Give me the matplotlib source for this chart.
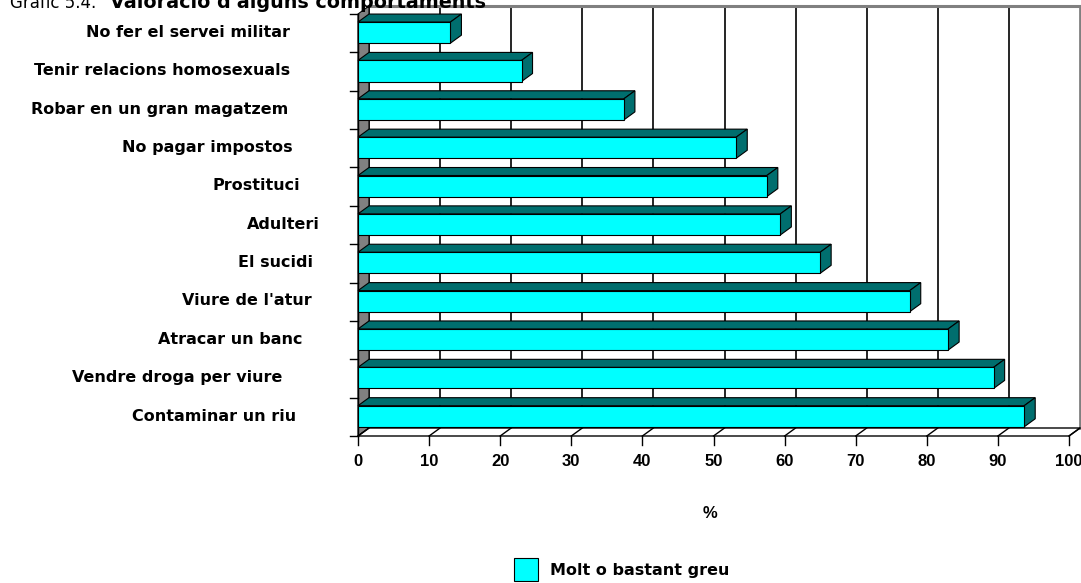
import matplotlib
matplotlib.use('Agg')
import matplotlib.pyplot as plt
from matplotlib.patches import Polygon, Rectangle

plt.rcParams['font.family'] = ['DejaVu Sans']

# categories top to bottom, as in the chart
categories = ['No fer el servei militar', 'Tenir relacions homosexuals',
              'Robar en un gran magatzem', 'No pagar impostos', 'Prostituci',
              'Adulteri', 'El sucidi', "Viure de l'atur", 'Atracar un banc',
              'Vendre droga per viure', 'Contaminar un riu']
values = [13, 23, 37.4, 53.2, 57.5, 59.4, 65, 77.6, 83, 89.4, 93.7]
xticks = [0, 10, 20, 30, 40, 50, 60, 70, 80, 90, 100]
series_name = 'Molt o bastant greu'
title_a = 'Gràfic 5.4.'
title_b = "Valoració d'alguns comportaments"

# right edge (px) of each category label, the source chart staggers them
label_right_px = [290, 290, 288, 293, 300, 320, 313, 312, 303, 282, 296]

W, H = 1081, 583
fig = plt.figure(figsize=(W / 100, H / 100), dpi=100)
x0, x1, ytop, ybot = 358, 1069, 14, 436
ax = fig.add_axes([x0 / W, 1 - ybot / H, (x1 - x0) / W, (ybot - ytop) / H])
n = len(categories)
ax.set_xlim(0, 100)
ax.set_ylim(0, n)
ax.axis('off')

pxu = (x1 - x0) / 100.0          # px per value unit
pyu = (ybot - ytop) / float(n)   # px per category
dx = 11 / pxu
dy = 8 / pyu

front = '#00FFFF'
dark = '#006E6E'
grey = '#808080'
lab_font = dict(family='DejaVu Sans', fontweight='bold', fontsize=11.5)
num_font = dict(family='Liberation Sans', fontweight='bold', fontsize=12)

# back wall
ax.add_patch(Rectangle((dx, dy), 100, n, facecolor='white', edgecolor='none',
                       clip_on=False, zorder=0))
for v in xticks:
    ax.plot([v + dx, v + dx], [dy, n + dy], color='black' if v < 100 else grey,
            lw=1.2 if v < 100 else 2, clip_on=False, zorder=1)
ax.plot([dx, 100 + dx], [n + dy, n + dy], color=grey, lw=2.2, clip_on=False, zorder=1)

# side wall
ax.add_patch(Polygon([(0, 0), (dx, dy), (dx, n + dy), (0, n)], closed=True,
                     facecolor=grey, edgecolor='black', lw=0.8, clip_on=False, zorder=1))

# floor
ax.add_patch(Polygon([(0, 0), (100, 0), (100 + dx, dy), (dx, dy)], closed=True,
                     facecolor='white', edgecolor='black', lw=1, clip_on=False, zorder=2))
for v in xticks:
    ax.plot([v, v + dx], [0, dy], color='black', lw=1, clip_on=False, zorder=2)
    ax.plot([v, v], [0, -9 / pyu], color='black', lw=1, clip_on=False, zorder=2)
    ax.text(v, -26 / pyu, str(v), ha='center', va='center', clip_on=False, **num_font)

# front left axis and category ticks
ax.plot([0, 0], [0, n], color='black', lw=1, clip_on=False, zorder=3)
for k in range(n + 1):
    ax.plot([-8 / pxu, 0], [k, k], color='black', lw=1, clip_on=False, zorder=3)

# bars
bh = 0.55
b0 = 0.24
for i, (cat, val) in enumerate(zip(categories, values)):
    k = n - 1 - i
    yb, yt = k + b0, k + b0 + bh
    ax.add_patch(Polygon([(0, yt), (val, yt), (val + dx, yt + dy), (dx, yt + dy)],
                         closed=True, facecolor=dark, edgecolor='black', lw=0.8,
                         clip_on=False, zorder=4))
    ax.add_patch(Polygon([(val, yb), (val + dx, yb + dy), (val + dx, yt + dy), (val, yt)],
                         closed=True, facecolor=dark, edgecolor='black', lw=0.8,
                         clip_on=False, zorder=4))
    ax.add_patch(Rectangle((0, yb), val, bh, facecolor=front, edgecolor='black',
                           lw=0.8, clip_on=False, zorder=5))
    ax.text((label_right_px[i] - x0) / pxu, k + 0.52, cat, ha='right', va='center',
            clip_on=False, **lab_font)

ax.text((710 - x0) / pxu, -(513 - ybot) / pyu, '%', ha='center', va='center',
        clip_on=False, **num_font)

# legend
fig.patches.append(Rectangle((514 / W, 1 - 581 / H), 24 / W, 23 / H, facecolor=front,
                             edgecolor='black', lw=0.8, transform=fig.transFigure))
fig.text(550 / W, 1 - 570 / H, series_name, ha='left', va='center', **lab_font)

# title, cut off at the top like the source
fig.text(10 / W, 1 - 8 / H, title_a, ha='left', va='baseline', fontsize=12)
fig.text(110 / W, 1 - 8 / H, title_b, ha='left', va='baseline', fontsize=13.8,
         fontweight='bold')

fig.savefig('out.png', dpi=100)
